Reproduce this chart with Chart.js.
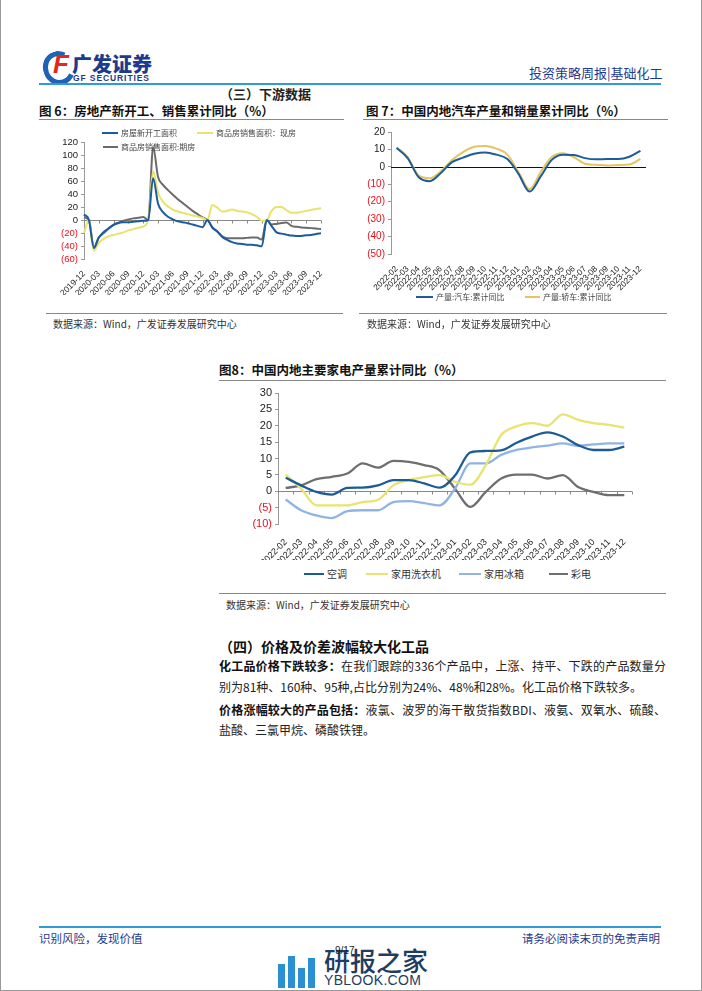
<!DOCTYPE html>
<html>
<head>
<meta charset="utf-8">
<script src="https://cdn.jsdelivr.net/npm/chart.js@4.4.1/dist/chart.umd.min.js"></script>
<style>
body{margin:0;background:#fff;font-family:"Noto Sans CJK SC","Liberation Sans",sans-serif;color:#222}
#page{position:relative;width:702px;height:991px;box-sizing:border-box;border:1px solid #999;border-top:none;overflow:hidden}
.abs{position:absolute;white-space:nowrap}
.hl{position:absolute;height:0}
canvas{position:absolute}
.lg{position:absolute;display:flex;align-items:center;white-space:nowrap}
.lg i{display:inline-block;height:2px;margin-right:3px}
.t{font-weight:700;font-size:12.5px;color:#111}
.src{font-size:10px;color:#333}
.p{position:absolute;left:218px;width:447px;font-size:12px;white-space:nowrap;color:#222}
.p b{font-weight:700;color:#111}
</style>
</head>
<body>
<div id="page">

<!-- header -->
<div class="abs" style="left:42px;top:51px;width:22px;height:24px;border:5px solid #1f63b6;border-right-color:transparent;border-radius:50%;transform:rotate(-20deg)"></div>
<div class="abs" style="left:52px;top:49px;font:italic 900 26px 'Liberation Sans';color:#e0281f">F</div>
<div class="abs" style="left:71px;top:49px;font-size:20px;font-weight:900;color:#1d3b8c">广发证券</div>
<div class="abs" style="left:72px;top:73px;font:700 8.5px 'Liberation Sans';color:#1d3b8c;letter-spacing:0.9px">GF SECURITIES</div>
<div class="abs" style="left:528px;top:63px;font-size:13px;color:#1d3b8c">投资策略周报|基础化工</div>
<div class="hl" style="left:38px;top:83px;width:622px;border-top:2px solid #2f9bd7"></div>
<div class="abs" style="left:219px;top:84px;font-size:13px;font-weight:700">（三）下游数据</div>

<!-- fig 6 -->
<div class="abs t" style="left:38px;top:101px">图 6：房地产新开工、销售累计同比（%）</div>
<div class="hl" style="left:38px;top:119px;width:305px;border-top:1px solid #888"></div>
<canvas id="c6" width="300" height="170" style="left:35px;top:125px"></canvas>
<div class="lg" style="left:101px;top:127px;font-size:8px;color:#444"><i style="width:16px;background:#1b5c9e"></i>房屋新开工面积</div>
<div class="lg" style="left:196px;top:127px;font-size:8px;color:#444"><i style="width:16px;background:#e8e36c"></i>商品房销售面积：现房</div>
<div class="lg" style="left:102px;top:141px;font-size:8px;color:#444"><i style="width:15px;background:#6b6b6b"></i>商品房销售面积:期房</div>
<div class="hl" style="left:45px;top:313px;width:297px;border-top:1px solid #888"></div>
<div class="abs src" style="left:52px;top:316px">数据来源：Wind，广发证券发展研究中心</div>

<!-- fig 7 -->
<div class="abs t" style="left:365px;top:101px">图 7：中国内地汽车产量和销量累计同比（%）</div>
<div class="hl" style="left:362px;top:119px;width:305px;border-top:1px solid #888"></div>
<canvas id="c7" width="305" height="170" style="left:350px;top:122px"></canvas>
<div class="lg" style="left:415px;top:291px;font-size:8px;color:#444"><i style="width:17px;background:#1d5c98"></i>产量:汽车:累计同比</div>
<div class="lg" style="left:524px;top:291px;font-size:8px;color:#444"><i style="width:15px;background:#e6c462"></i>产量:轿车:累计同比</div>
<div class="hl" style="left:358px;top:313px;width:308px;border-top:1px solid #888"></div>
<div class="abs src" style="left:366px;top:316px">数据来源：Wind，广发证券发展研究中心</div>

<!-- fig 8 -->
<div class="abs t" style="left:218px;top:360px">图8：中国内地主要家电产量累计同比（%）</div>
<div class="hl" style="left:218px;top:380px;width:447px;border-top:1px solid #888"></div>
<canvas id="c8" width="415" height="177" style="left:225px;top:383px"></canvas>
<div class="lg" style="left:303px;top:566px;font-size:10px;color:#333"><i style="width:20px;background:#1d5b96"></i>空调</div>
<div class="lg" style="left:365px;top:566px;font-size:10px;color:#333"><i style="width:22px;background:#e8e46e"></i>家用洗衣机</div>
<div class="lg" style="left:458px;top:566px;font-size:10px;color:#333"><i style="width:22px;background:#90b4e4"></i>家用冰箱</div>
<div class="lg" style="left:548px;top:566px;font-size:10px;color:#333"><i style="width:19px;background:#6e6e6e"></i>彩电</div>
<div class="hl" style="left:218px;top:593px;width:447px;border-top:1px solid #888"></div>
<div class="abs src" style="left:225px;top:597px">数据来源：Wind，广发证券发展研究中心</div>

<!-- text -->
<div class="abs" style="left:218px;top:636px;font-size:14px;font-weight:700;color:#111">（四）价格及价差波幅较大化工品</div>
<div class="p" style="top:657px;text-align:justify;text-align-last:justify"><b>化工品价格下跌较多：</b>在我们跟踪的336个产品中，上涨、持平、下跌的产品数量分</div>
<div class="p" style="top:678px">别为81种、160种、95种,占比分别为24%、48%和28%。化工品价格下跌较多。</div>
<div class="p" style="top:701px;text-align:justify;text-align-last:justify"><b>价格涨幅较大的产品包括：</b>液氯、波罗的海干散货指数BDI、液氨、双氧水、硫酸、</div>
<div class="p" style="top:721px">盐酸、三氯甲烷、磷酸铁锂。</div>

<!-- footer -->
<div class="hl" style="left:38px;top:926px;width:622px;border-top:2px solid #2f9bd7"></div>
<div class="abs" style="left:38px;top:930px;font-size:11.5px;color:#1d3b8c">识别风险，发现价值</div>
<div class="abs" style="right:41px;top:930px;font-size:11.5px;color:#1d3b8c">请务必阅读末页的免责声明</div>
<div class="abs" style="left:277px;top:964px;width:7px;height:24px;background:#2b8fd3"></div>
<div class="abs" style="left:287px;top:956px;width:7px;height:32px;background:#2b8fd3"></div>
<div class="abs" style="left:297px;top:968px;width:7px;height:20px;background:#2b8fd3"></div>
<div class="abs" style="left:307px;top:958px;width:7px;height:30px;background:#2b8fd3"></div>
<div class="abs" style="left:323px;top:941px;font-size:26px;font-weight:500;color:#1f3d62">研报之家</div>
<div class="abs" style="left:323px;top:972px;font:14px 'Liberation Sans';color:#1f3d62;letter-spacing:0.3px">YBLOOK.COM</div>
<div class="abs" style="left:334px;top:945px;font:10px 'Liberation Sans';color:#222">9/17</div>

</div>
<script>
// 图6 房地产 (月度, 1月无数据按0)
const months6=["2019-12","2020-01","2020-02","2020-03","2020-04","2020-05","2020-06","2020-07","2020-08","2020-09","2020-10","2020-11","2020-12",
"2021-01","2021-02","2021-03","2021-04","2021-05","2021-06","2021-07","2021-08","2021-09","2021-10","2021-11","2021-12",
"2022-01","2022-02","2022-03","2022-04","2022-05","2022-06","2022-07","2022-08","2022-09","2022-10","2022-11","2022-12",
"2023-01","2023-02","2023-03","2023-04","2023-05","2023-06","2023-07","2023-08","2023-09","2023-10","2023-11","2023-12"];
const newStart=[8.5,0,-43,-27,-18.4,-12.8,-7.6,-4.5,-3.6,-3.4,-2.6,-2,-1.2,
0,64.3,25,12,5,1,-2,-3.5,-5,-7,-9,-11,
0,-12,-17.5,-26,-30.5,-34,-36,-37,-38,-38,-39,-40.5,
0,-9.4,-19,-21,-22.5,-24,-24.5,-24.5,-23.5,-23,-21.5,-20.5];
const salesSpot=[-20,0,-47,-35,-29,-25,-23,-21,-19,-16,-14,-12,-10,
0,75,42,28,21,16,13,11,9,7,5.5,3,
0,23,19,13,14,16,14,13,12,9,5,-1,
0,14,20,20,15,11,11,12.5,14,15.5,17,18];
const salesFuture=[4,0,-42,-27,-20,-13,-7,-4,-1,1,2.5,3.5,4.5,
0,112,66,54,46,39,32,26,20,14,9,4,
0,-11,-18,-25,-28,-28,-28,-28,-27.5,-27,-27,-30,
0,-7,-6,-4.5,-4,-9,-10.5,-11.5,-12,-12.5,-13,-14];

// 图7 汽车
const months7=["2022-02","2022-03","2022-04","2022-05","2022-06","2022-07","2022-08","2022-09","2022-10","2022-11","2022-12",
"2023-01","2023-02","2023-03","2023-04","2023-05","2023-06","2023-07","2023-08","2023-09","2023-10","2023-11","2023-12"];
const autoOutput=[10.8,5,-6,-8.2,-3.5,2.7,5.3,7.5,8.3,7,4.5,-4,-14.2,-5.5,4,7,6.8,5,4.3,4.5,4.5,5.8,9.2];
const carOutput=[11.3,5.6,-5,-6.5,-2.5,4,8.5,11.5,12,10.5,7,-3,-12.8,-3,5.6,7.8,5.5,1.8,1.2,0.8,1,1.3,4.5];

// 图8 家电
const months8=months7;
const aircon=[4.1,1.8,-0.2,-1,1,1.1,1.8,3.4,3.4,2.4,1.1,4.8,11.9,12.3,12.5,14.8,16.7,18,16.7,14.1,12.6,12.6,13.6];
const washer=[5.1,0.8,-4.3,-4.3,-4.3,-3.3,-2.6,1.8,3.4,4.3,4.9,2.9,2,8,17.2,19.8,20.8,20,23.5,21.8,20.8,20.3,19.4];
const fridge=[-2.5,-5.8,-7.4,-8.2,-6.1,-5.8,-5.8,-3.3,-3,-3.6,-4.3,0.8,8.5,8.5,11.1,12.6,13.4,13.9,14.6,13.9,14.3,14.6,14.6];
const tv=[1,1.8,3.7,4.4,5.4,8.5,7.2,9.3,9,8,6.4,0.8,-4.8,-0.2,3.9,5.1,5.1,3.9,4.9,1.3,-0.2,-1.2,-1.2];

const NUM="'Liberation Sans', Arial, sans-serif";
function negLabel(v){return v<0?'('+(-v)+')':String(v);}
function negColor(c){return c.tick&&c.tick.value<0?'#e8101a':'#222';}

// zero line with small tick marks, drawn through the scales
const zeroAxis={
  id:'zeroAxis',
  beforeDatasetsDraw(chart,args,o){
    const {ctx,chartArea,scales:{x,y}}=chart;
    const y0=Math.round(y.getPixelForValue(0))+0.5;
    ctx.save();
    ctx.strokeStyle=o.color||'#888';ctx.lineWidth=1;
    ctx.beginPath();ctx.moveTo(chartArea.left,y0);ctx.lineTo(chartArea.right,y0);
    const n=chart.data.labels.length;
    if(o.every){for(let i=0;i<n;i+=o.every){const px=Math.round(x.getPixelForValue(i))+0.5;ctx.moveTo(px,y0);ctx.lineTo(px,y0+3);}}
    if(o.between){for(let i=0;i<=n;i++){const px=Math.round(x.getPixelForValue(i-0.5))+0.5;ctx.moveTo(px,y0);ctx.lineTo(px,y0+3);}}
    ctx.stroke();ctx.restore();
  }
};

function line(data,color,w){
  return {data:data,borderColor:color,backgroundColor:color,borderWidth:w||2,pointRadius:0,fill:false,cubicInterpolationMode:'monotone'};
}

function makeChart(id,labels,sets,o){
  return new Chart(document.getElementById(id),{
    type:'line',
    data:{labels:labels,datasets:sets},
    plugins:[zeroAxis],
    options:{
      responsive:false,animation:false,devicePixelRatio:1,
      layout:{padding:{top:o.top,right:o.right,left:0,bottom:0}},
      plugins:{legend:{display:false},tooltip:{enabled:false},zeroAxis:o.zero},
      scales:{
        x:{
          offset:o.offset,
          grid:{display:false},border:{display:false},
          ticks:{autoSkip:false,minRotation:45,maxRotation:45,padding:o.xpad,color:'#222',font:{family:NUM,size:o.xf},
            callback(v,i){return i%o.step===0?this.getLabelForValue(v):null;}},
          afterFit(s){s.height=o.xh;}
        },
        y:{
          min:o.min,max:o.max,
          grid:{drawOnChartArea:false,drawTicks:true,tickLength:3,color:'#999'},
          border:{display:true,color:'#999'},
          ticks:{autoSkip:false,stepSize:o.stepY,callback:negLabel,color:negColor,padding:3,font:{family:NUM,size:o.yf}},
          afterFit(s){s.width=o.yw;}
        }
      }
    }
  });
}

makeChart('c6',months6,[
  line(newStart,'#1b5c9e'),
  line(salesSpot,'#e8e36c'),
  line(salesFuture,'#6b6b6b')
],{top:17,right:15,offset:false,xf:8.5,xh:36,xpad:2,yf:9.5,yw:48,min:-60,max:120,stepY:20,step:3,zero:{color:'#888',every:3}});

makeChart('c7',months7,[
  line(autoOutput,'#1d5c98'),
  line(carOutput,'#e6c462')
],{top:10,right:10,offset:true,xf:8.3,xh:38,xpad:2,yf:10,yw:40,min:-50,max:20,stepY:10,step:1,zero:{color:'#111'}});

makeChart('c8',months8,[
  line(aircon,'#1d5b96',2.3),
  line(washer,'#e8e46e',2.3),
  line(fridge,'#90b4e4',2.3),
  line(tv,'#6e6e6e',2.3)
],{top:10,right:9,offset:true,xf:9,xh:36,xpad:5,yf:11,yw:52,min:-10,max:30,stepY:5,step:1,zero:{color:'#888',between:true}});
</script>
</body>
</html>
